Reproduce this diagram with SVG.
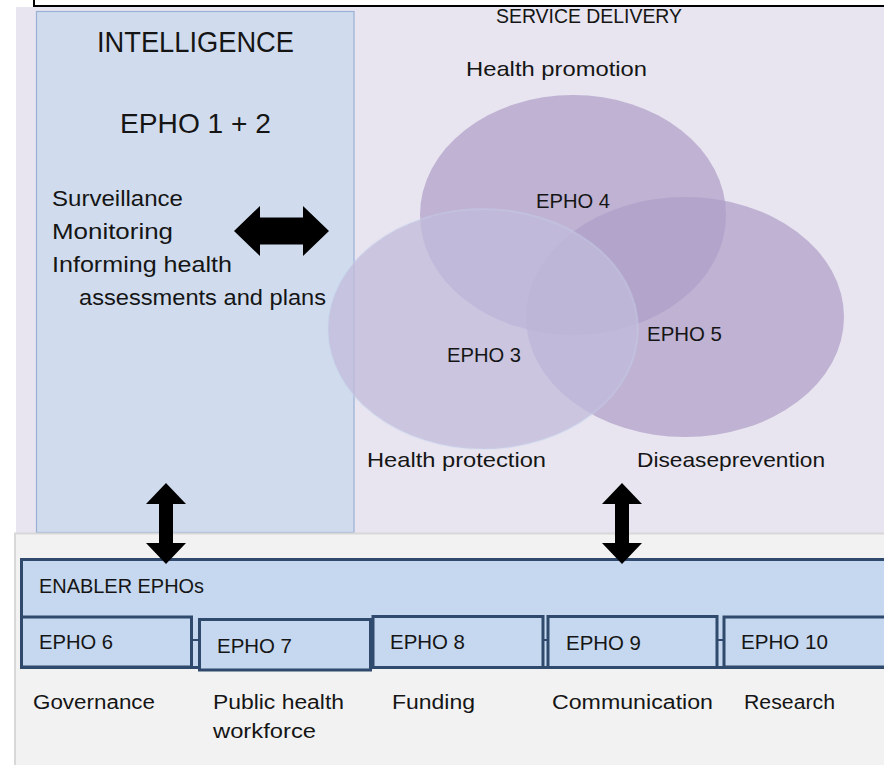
<svg xmlns="http://www.w3.org/2000/svg" width="884" height="765" viewBox="0 0 884 765">
<style>
text{font-family:"Liberation Sans",Arial,sans-serif;fill:#151515}
.t21{font-size:21px}
.t20{font-size:20px}
.t22{font-size:22px}
.box{fill:#C6D8EF;stroke:#2F4A6C;stroke-width:3}
.arrow{fill:#000}
.link{stroke:#2F4A6C;stroke-width:2}
</style>
<rect x="0" y="0" width="884" height="765" fill="#FFFFFF"/>
<rect x="34" y="-10" width="900" height="16" fill="#FFFFFF" stroke="#000" stroke-width="2"/>
<rect x="16" y="7" width="880" height="527" fill="#E8E5F0"/>
<g id="intelligence">
<rect x="36.5" y="11.5" width="317.5" height="521" fill="#D0DCEE" stroke="#9AB0D4" stroke-width="1.2"/>
<text x="97" y="52" font-size="30" textLength="197" lengthAdjust="spacingAndGlyphs">INTELLIGENCE</text>
<text x="120" y="133" font-size="28" textLength="151" lengthAdjust="spacingAndGlyphs">EPHO 1 + 2</text>
<text class="t22" x="52" y="206" textLength="131" lengthAdjust="spacingAndGlyphs">Surveillance</text>
<text class="t22" x="52" y="239" textLength="121" lengthAdjust="spacingAndGlyphs">Monitoring</text>
<text class="t22" x="52" y="272" textLength="180" lengthAdjust="spacingAndGlyphs">Informing health</text>
<text class="t22" x="79" y="305" textLength="247" lengthAdjust="spacingAndGlyphs">assessments and plans</text>
</g>
<g id="service-delivery">
<text class="t21" x="496" y="23" textLength="186" lengthAdjust="spacingAndGlyphs">SERVICE DELIVERY</text>
<text class="t21" x="466" y="76" textLength="181" lengthAdjust="spacingAndGlyphs">Health promotion</text>
<text class="t21" x="367" y="467" textLength="179" lengthAdjust="spacingAndGlyphs">Health protection</text>
<text class="t21" x="637" y="467" textLength="188" lengthAdjust="spacingAndGlyphs">Diseaseprevention</text>
</g>
<g id="epho4">
<ellipse cx="573" cy="215" rx="153" ry="120" fill="#AF9EC8" fill-opacity="0.72"/>
</g>
<g id="epho5">
<ellipse cx="685" cy="317" rx="159" ry="120" fill="#AF9EC8" fill-opacity="0.72"/>
</g>
<g id="epho3">
<ellipse cx="483" cy="329" rx="155" ry="120" fill="#C2BBDA" fill-opacity="0.77" stroke="#C8D8F0" stroke-opacity="0.3" stroke-width="2"/>
</g>
<text class="t21" x="536" y="208" textLength="74" lengthAdjust="spacingAndGlyphs">EPHO 4</text>
<text class="t21" x="647" y="341" textLength="75" lengthAdjust="spacingAndGlyphs">EPHO 5</text>
<text class="t21" x="447" y="362" textLength="74" lengthAdjust="spacingAndGlyphs">EPHO 3</text>
<rect x="15" y="533.5" width="880" height="240" fill="#F2F2F2" stroke="#D8D8D8" stroke-width="2"/>
<g id="enabler">
<rect class="box" x="21.5" y="559.5" width="880" height="108"/>
<text class="t21" x="39" y="593" textLength="165" lengthAdjust="spacingAndGlyphs">ENABLER EPHOs</text>
</g>
<g id="connectors">
<line class="link" x1="191" y1="640" x2="199" y2="640"/>
<line class="link" x1="371" y1="640" x2="373" y2="640"/>
<line class="link" x1="543" y1="640" x2="548" y2="640"/>
<line class="link" x1="717" y1="640" x2="724" y2="640"/>
<path class="arrow" d="M234,231 L260,206 L260,217.5 L303,217.5 L303,206 L329,231 L303,256 L303,244.5 L260,244.5 L260,256 Z"/>
<path class="arrow" d="M166,483 L186,504 L173,504 L173,543 L186,543 L166,564 L146,543 L159,543 L159,504 L146,504 Z"/>
<path class="arrow" d="M622,483 L642,504 L629,504 L629,543 L642,543 L622,564 L602,543 L615,543 L615,504 L602,504 Z"/>
</g>
<g id="epho6">
<rect class="box" x="21.5" y="617" width="170" height="50"/>
<text class="t21" x="39" y="649" textLength="74" lengthAdjust="spacingAndGlyphs">EPHO 6</text>
<text class="t20" x="33" y="709" textLength="122" lengthAdjust="spacingAndGlyphs">Governance</text>
</g>
<g id="epho7">
<rect class="box" x="199.5" y="619.5" width="171" height="50.5"/>
<text class="t21" x="217" y="653" textLength="75" lengthAdjust="spacingAndGlyphs">EPHO 7</text>
<text class="t20" x="213" y="709" textLength="131" lengthAdjust="spacingAndGlyphs">Public health</text>
<text class="t20" x="213" y="738" textLength="103" lengthAdjust="spacingAndGlyphs">workforce</text>
</g>
<g id="epho8">
<rect class="box" x="373" y="616.5" width="170" height="51"/>
<text class="t21" x="390" y="649" textLength="75" lengthAdjust="spacingAndGlyphs">EPHO 8</text>
<text class="t20" x="392" y="709" textLength="83" lengthAdjust="spacingAndGlyphs">Funding</text>
</g>
<g id="epho9">
<rect class="box" x="548" y="616.5" width="169" height="51"/>
<text class="t21" x="566" y="650" textLength="75" lengthAdjust="spacingAndGlyphs">EPHO 9</text>
<text class="t20" x="552" y="709" textLength="161" lengthAdjust="spacingAndGlyphs">Communication</text>
</g>
<g id="epho10">
<rect class="box" x="724" y="617" width="180" height="50"/>
<text class="t21" x="741" y="649" textLength="87" lengthAdjust="spacingAndGlyphs">EPHO 10</text>
<text class="t20" x="744" y="709" textLength="91" lengthAdjust="spacingAndGlyphs">Research</text>
</g>
</svg>
